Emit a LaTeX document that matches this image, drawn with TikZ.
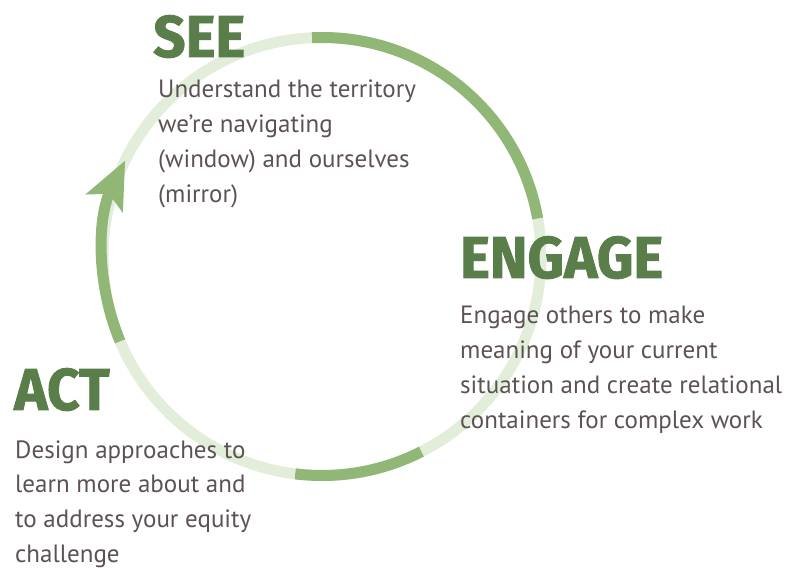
\documentclass[tikz,border=0pt]{standalone}
\usepackage{fontspec}
\setmainfont{PT Sans}
\newfontfamily\headfont[FakeStretch=0.96, FakeBold=1.5]{Fira Sans}
\usetikzlibrary{arrows.meta}
\definecolor{ringlight}{HTML}{E3EEDA}
\definecolor{ringdark}{HTML}{90B776}
\definecolor{headgreen}{HTML}{5A7E4A}
\definecolor{bodygrey}{HTML}{5C5253}
\tikzset{
  ring/.style={draw=ringlight, line width=11pt},
  arcpart/.style={draw=ringdark, line width=11pt},
  arr/.style={-{Stealth[length=47pt, width=40pt, inset=10pt]}},
  head/.style={anchor=base west, inner sep=0pt, text=headgreen,
               font=\headfont\bfseries\fontsize{59}{59}\selectfont},
  body/.style={anchor=base west, inner sep=0pt, align=left, text=bodygrey,
               font=\fontsize{25}{34.8}\selectfont}
}

\begin{document}
\begin{tikzpicture}[x=1pt, y=1pt]
\useasboundingbox (0,0) rectangle (791,567);
\coordinate (c) at (322,310.5);
\draw[ring] (c) circle[radius=219pt];
\draw[arcpart] (c) ++(92.6:219pt) arc[start angle=92.6, end angle=10, radius=219pt];
\draw[arcpart] (c) ++(263:219pt) arc[start angle=263, end angle=297, radius=219pt];
\draw[arcpart, arr] (c) ++(202.8:219pt) arc[start angle=202.8, end angle=154, radius=219pt];

\node[head] (see) at (153,510) {SEE};
\node[body] (seetxt) at (158,364.6) {Understand the territory\\ we’re navigating\\ (window) and ourselves\\ (mirror)};
\node[head] (engage) at (460,289) {ENGAGE};
\node[body] (engagetxt) at (460,138.6) {Engage others to make\\ meaning of your current\\ situation and create relational\\ containers for complex work};
\node[head] (act) at (14,157) {ACT};
\node[body] (acttxt) at (15,4.6) {Design approaches to\\ learn more about and\\ to address your equity\\ challenge};
\end{tikzpicture}
\end{document}
